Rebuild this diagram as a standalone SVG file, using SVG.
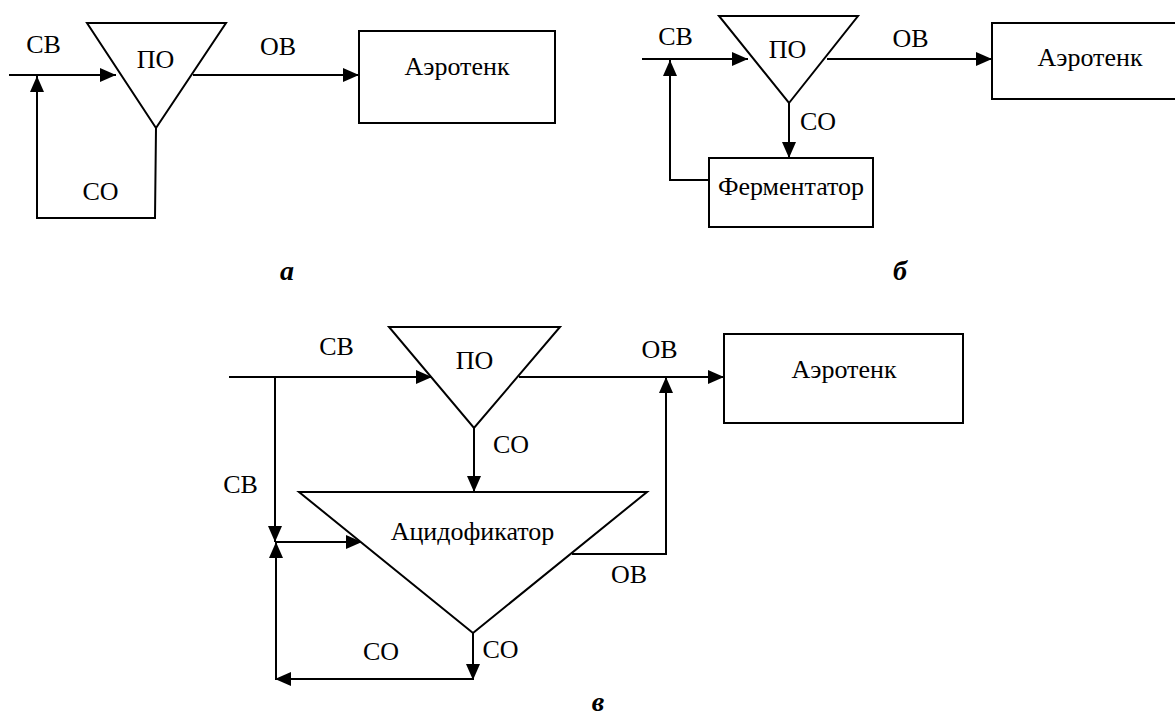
<svg xmlns="http://www.w3.org/2000/svg" width="1175" height="717" viewBox="0 0 1175 717" font-family="Liberation Serif, Times New Roman, DejaVu Serif, serif">
<style>
.shape{fill:#fff;stroke:#000;stroke-width:2}
.ln{fill:none;stroke:#000;stroke-width:2}
.t{font-size:26px;fill:#000;text-anchor:middle}
.cap{font-weight:bold;font-style:italic;font-size:28px}
</style>
<defs>
<marker id="ah" markerUnits="userSpaceOnUse" markerWidth="17" markerHeight="15" refX="16" refY="7" orient="auto">
<path d="M0,0 L16,7 L0,14 z" fill="#000"/>
</marker>
</defs>
<rect width="1175" height="717" fill="#fff"/>
<g id="connectors">
<line class="ln" x1="9" y1="75" x2="116" y2="75" marker-end="url(#ah)"/>
<line class="ln" x1="193" y1="75" x2="359" y2="75" marker-end="url(#ah)"/>
<polyline class="ln" points="156,128 155,218 37,218 37,76" marker-end="url(#ah)"/>
<line class="ln" x1="642" y1="59" x2="748" y2="59" marker-end="url(#ah)"/>
<line class="ln" x1="827" y1="59" x2="992" y2="59" marker-end="url(#ah)"/>
<line class="ln" x1="789" y1="103" x2="789" y2="158" marker-end="url(#ah)"/>
<polyline class="ln" points="709,180 670,180 670,60" marker-end="url(#ah)"/>
<line class="ln" x1="229" y1="377" x2="432" y2="377" marker-end="url(#ah)"/>
<line class="ln" x1="275" y1="377" x2="275" y2="542" marker-end="url(#ah)"/>
<line class="ln" x1="275" y1="542" x2="362" y2="542" marker-end="url(#ah)"/>
<line class="ln" x1="474" y1="428" x2="474" y2="492" marker-end="url(#ah)"/>
<line class="ln" x1="519" y1="377" x2="724" y2="377" marker-end="url(#ah)"/>
<polyline class="ln" points="572,554 666,554 666,377" marker-end="url(#ah)"/>
<line class="ln" x1="473" y1="633" x2="473" y2="680" marker-end="url(#ah)"/>
<line class="ln" x1="474" y1="679" x2="275" y2="679" marker-end="url(#ah)"/>
<line class="ln" x1="276" y1="679" x2="276" y2="542" marker-end="url(#ah)"/>
</g>
<g id="a-po">
<polygon class="shape" points="87,23 226,23 156,128"/>
<text class="t" font-family="Liberation Serif, serif" x="155.5" y="68">ПО</text>
</g>
<g id="a-aero">
<rect class="shape" x="359" y="31" width="196" height="92"/>
<text class="t" font-family="Liberation Serif, serif" x="457" y="75">Аэротенк</text>
</g>
<g id="b-po">
<polygon class="shape" points="719,16 858,16 789,103"/>
<text class="t" font-family="Liberation Serif, serif" x="787.5" y="58">ПО</text>
</g>
<g id="b-aero">
<rect class="shape" x="992" y="23" width="196" height="76"/>
<text class="t" font-family="Liberation Serif, serif" x="1090" y="66">Аэротенк</text>
</g>
<g id="b-ferm">
<rect class="shape" x="709" y="158" width="164" height="69"/>
<text class="t" font-family="Liberation Serif, serif" x="791" y="195">Ферментатор</text>
</g>
<g id="c-po">
<polygon class="shape" points="389,327 560,327 474,428"/>
<text class="t" font-family="Liberation Serif, serif" x="474.5" y="369">ПО</text>
</g>
<g id="c-acid">
<polygon class="shape" points="299,492 647,492 473,633"/>
<text class="t" font-family="Liberation Serif, serif" x="472.5" y="540">Ацидофикатор</text>
</g>
<g id="c-aero">
<rect class="shape" x="724" y="334" width="239" height="89"/>
<text class="t" font-family="Liberation Serif, serif" x="844" y="378">Аэротенк</text>
</g>
<g id="labels" font-family="Liberation Serif, serif">
<text class="t" x="43.5" y="53">СВ</text>
<text class="t" x="278" y="55">ОВ</text>
<text class="t" x="100.5" y="200">СО</text>
<text class="t cap" x="287" y="280">а</text>
<text class="t" x="675.5" y="45">СВ</text>
<text class="t" x="910.5" y="47">ОВ</text>
<text class="t" x="818" y="130">СО</text>
<text class="t cap" x="900" y="280">б</text>
<text class="t" x="336.5" y="355">СВ</text>
<text class="t" x="511" y="453">СО</text>
<text class="t" x="240.5" y="493">СВ</text>
<text class="t" x="659.5" y="358">ОВ</text>
<text class="t" x="629" y="583">ОВ</text>
<text class="t" x="381" y="660">СО</text>
<text class="t" x="500.5" y="658">СО</text>
<text class="t cap" x="598" y="711">в</text>
</g>
</svg>
